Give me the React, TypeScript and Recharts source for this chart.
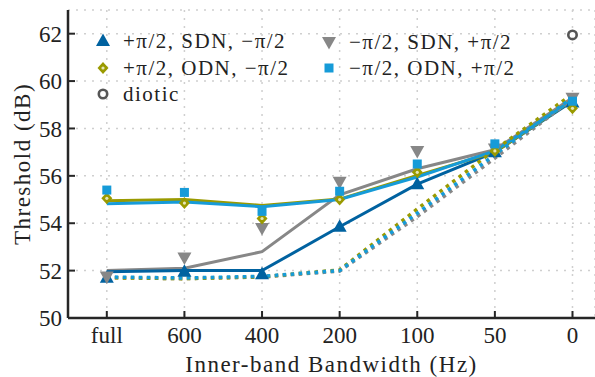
import { CartesianGrid, ComposedChart, Line, XAxis, YAxis } from "recharts";

const bandLabels = ["full", "600", "400", "200", "100", "50", "0"];
const yTicks = [50, 52, 54, 56, 58, 60, 62];

// measured thresholds (markers)
const sdnPlus = [51.7, 51.95, 51.85, 53.85, 55.65, 57.0, 59.1];
const sdnMinus = [51.75, 52.55, 53.8, 55.75, 57.05, 57.15, 59.3];
const odnPlus = [55.05, 54.85, 54.2, 55.0, 56.15, 57.05, 58.85];
const odnMinus = [55.4, 55.3, 54.5, 55.35, 56.5, 57.35, 59.15];
const diotic = [null, null, null, null, null, null, 61.95];

// model curves (solid)
const sdnPlusModel = [51.95, 52.0, 52.0, 53.85, 55.65, 57.0, 59.15];
const sdnMinusModel = [52.0, 52.1, 52.8, 55.2, 56.3, 57.1, 59.3];
const odnPlusModel = [54.95, 55.0, 54.75, 55.02, 56.02, 57.0, 59.2];
const odnMinusModel = [54.82, 54.9, 54.7, 55.0, 55.95, 57.05, 59.2];

// model curves (dotted)
const odnPlusAlt = [51.7, 51.66, 51.74, 52.03, 54.6, 57.1, 59.45];
const odnMinusAlt = [51.73, 51.69, 51.76, 52.0, 54.42, 56.9, 59.3];
const dioticAlt = [51.7, 51.66, 51.73, 51.98, 54.28, 56.75, 59.25];

const BLUE = "#0062a0";
const GREY = "#878787";
const OLIVE = "#9a9a00";
const CYAN = "#169bd8";
const DARK = "#565656";
const FONT = "'Liberation Serif', 'Times New Roman', serif";

const data = bandLabels.map((label, i) => ({
  idx: i,
  label,
  sdnPlus: sdnPlus[i],
  sdnMinus: sdnMinus[i],
  odnPlus: odnPlus[i],
  odnMinus: odnMinus[i],
  diotic: diotic[i],
  sdnPlusModel: sdnPlusModel[i],
  sdnMinusModel: sdnMinusModel[i],
  odnPlusModel: odnPlusModel[i],
  odnMinusModel: odnMinusModel[i],
  odnPlusAlt: odnPlusAlt[i],
  odnMinusAlt: odnMinusAlt[i],
  dioticAlt: dioticAlt[i],
}));

type Shape = "up" | "down" | "diamond" | "square" | "circle";

function Marker({ shape, cx, cy }: { shape: Shape; cx: number; cy: number }) {
  if (shape === "up")
    return (
      <polygon
        points={`${cx},${cy - 7.5} ${cx - 7},${cy + 5} ${cx + 7},${cy + 5}`}
        fill={BLUE}
      />
    );
  if (shape === "down")
    return (
      <polygon
        points={`${cx},${cy + 7.5} ${cx - 7},${cy - 5} ${cx + 7},${cy - 5}`}
        fill={GREY}
      />
    );
  if (shape === "diamond")
    return (
      <g>
        <polygon
          points={`${cx},${cy - 6} ${cx + 5.5},${cy} ${cx},${cy + 6} ${cx - 5.5},${cy}`}
          fill={OLIVE}
        />
        <circle cx={cx} cy={cy} r={1.6} fill="#e6e6b8" />
      </g>
    );
  if (shape === "square")
    return <rect x={cx - 4.5} y={cy - 4.5} width={9} height={9} fill={CYAN} />;
  return <circle cx={cx} cy={cy} r={4.2} fill="#ffffff" stroke={DARK} strokeWidth={2.6} />;
}

const dotOf = (shape: Shape) => (props: any) => {
  const { cx, cy, value, index } = props;
  if (cx == null || cy == null || value == null) return <g key={`e-${shape}-${index}`} />;
  return (
    <g key={`m-${shape}-${index}`}>
      <Marker shape={shape} cx={cx} cy={cy} />
    </g>
  );
};

const legendItems: { shape: Shape; text: string; left: number; top: number }[] = [
  { shape: "up", text: "+π/2, SDN, −π/2", left: 94, top: 41 },
  { shape: "diamond", text: "+π/2, ODN, −π/2", left: 94, top: 68 },
  { shape: "circle", text: "diotic", left: 94, top: 94 },
  { shape: "down", text: "−π/2, SDN, +π/2", left: 320, top: 42 },
  { shape: "square", text: "−π/2, ODN, +π/2", left: 320, top: 68 },
];

function XTick({ x, y, payload }: any) {
  return (
    <g>
      <line x1={x} y1={y} x2={x} y2={y - 7} stroke="#262626" strokeWidth={2} />
      <text x={x} y={y + 25} textAnchor="middle" fontFamily={FONT} fontSize={23} fill="#222">
        {bandLabels[payload.value]}
      </text>
    </g>
  );
}

function YTick({ x, y, payload }: any) {
  return (
    <g>
      <line x1={x} y1={y} x2={x + 7} y2={y} stroke="#262626" strokeWidth={2} />
      <text x={x - 6} y={y} dy="0.35em" textAnchor="end" fontFamily={FONT} fontSize={23} fill="#222">
        {payload.value}
      </text>
    </g>
  );
}

const solid = (key: string, color: string) => (
  <Line
    key={key}
    dataKey={key}
    stroke={color}
    strokeWidth={3}
    dot={false}
    activeDot={false}
    isAnimationActive={false}
    type="linear"
  />
);

const dotted = (key: string, color: string) => (
  <Line
    key={key}
    dataKey={key}
    stroke={color}
    strokeWidth={3.5}
    strokeDasharray="3.5 4.5"
    dot={false}
    activeDot={false}
    isAnimationActive={false}
    type="linear"
  />
);

const markers = (key: string, shape: Shape) => (
  <Line
    key={key}
    dataKey={key}
    stroke="none"
    dot={dotOf(shape)}
    activeDot={false}
    isAnimationActive={false}
    connectNulls={false}
  />
);

export default function App() {
  return (
    <div style={{ position: "absolute", left: 0, top: 0, width: 595, height: 377, background: "#fff" }}>
      <ComposedChart width={595} height={377} data={data} margin={{ top: 10, right: 0, bottom: 0, left: 0 }}>
        <CartesianGrid stroke="#cfcfcf" strokeWidth={1.5} strokeDasharray="2 6" />
        <XAxis
          dataKey="idx"
          type="number"
          domain={[-0.5, 6.29]}
          ticks={[0, 1, 2, 3, 4, 5, 6]}
          allowDataOverflow
          height={59}
          tickSize={0}
          tickMargin={0}
          tickLine={false}
          axisLine={{ stroke: "#262626", strokeWidth: 2.5 }}
          tick={<XTick />}
          label={{
            content: (p: any) => {
              const vb = p.viewBox;
              return (
                <text
                  x={vb.x + vb.width / 2}
                  y={vb.y + 54}
                  textAnchor="middle"
                  fontFamily={FONT}
                  fontSize={23}
                  letterSpacing={1.5}
                  fill="#222"
                >
                  Inner-band Bandwidth (Hz)
                </text>
              );
            },
          }}
        />
        <YAxis
          type="number"
          domain={[50, 63]}
          ticks={yTicks}
          width={68}
          tickSize={0}
          tickMargin={0}
          tickLine={false}
          axisLine={{ stroke: "#262626", strokeWidth: 2.5 }}
          tick={<YTick />}
          label={{
            content: (p: any) => {
              const vb = p.viewBox;
              const cx = vb.x + 30;
              const cy = vb.y + vb.height / 2;
              return (
                <text
                  x={cx}
                  y={cy}
                  transform={`rotate(-90 ${cx} ${cy})`}
                  textAnchor="middle"
                  fontFamily={FONT}
                  fontSize={23}
                  letterSpacing={1.5}
                  fill="#222"
                >
                  Threshold (dB)
                </text>
              );
            },
          }}
        />
        {solid("sdnMinusModel", GREY)}
        {solid("sdnPlusModel", BLUE)}
        {solid("odnPlusModel", OLIVE)}
        {solid("odnMinusModel", CYAN)}
        {dotted("dioticAlt", GREY)}
        {dotted("odnPlusAlt", OLIVE)}
        {dotted("odnMinusAlt", CYAN)}
        {markers("sdnPlus", "up")}
        {markers("sdnMinus", "down")}
        {markers("odnPlus", "diamond")}
        {markers("odnMinus", "square")}
        {markers("diotic", "circle")}
      </ComposedChart>
      {legendItems.map((item) => (
        <div
          key={item.text}
          style={{
            position: "absolute",
            left: item.left,
            top: item.top - 13,
            height: 26,
            display: "flex",
            alignItems: "center",
            fontFamily: FONT,
            fontSize: 21,
            letterSpacing: 1.5,
            color: "#222",
            whiteSpace: "nowrap",
          }}
        >
          <svg width={18} height={26} style={{ marginRight: 11 }}>
            <Marker shape={item.shape} cx={9} cy={13} />
          </svg>
          {item.text}
        </div>
      ))}
    </div>
  );
}
